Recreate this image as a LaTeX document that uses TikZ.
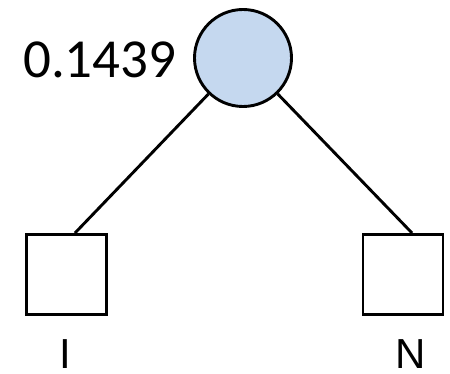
\documentclass[tikz,border=0pt]{standalone}
\usepackage{fontspec}
\newfontfamily\calib{Carlito}
\newfontfamily\arial{Liberation Sans}
\definecolor{nodeblue}{RGB}{197,216,239}
\begin{document}
\begin{tikzpicture}[x=1pt,y=-1pt,
  chance/.style={circle,draw=black,line width=2.9pt,fill=nodeblue,minimum size=97pt,inner sep=0},
  leaf/.style={rectangle,draw=black,line width=2.9pt,fill=white,minimum size=80pt,inner sep=0},
  edge/.style={line width=2.9pt},
  lbl/.style={inner sep=0,anchor=base,font=\arial\fontsize{42}{42}\selectfont}]
\useasboundingbox (0,0) rectangle (450,374);
\node[chance] (c) at (243,58) {};
\node[leaf] (l) at (66.5,274.5) {};
\node[leaf] (r) at (403,274.5) {};
\coordinate (lt) at (75,233);
\coordinate (rt) at (412,233);
\draw[edge] (c) -- (lt);
\draw[edge] (c) -- (rt);
\node[inner sep=0,anchor=base west,font=\calib\fontsize{55}{55}\selectfont] (v) at (23,78) {0.1439};
\node[lbl] (li) at (65,368) {I};
\node[lbl] (ln) at (411,368) {N};
\end{tikzpicture}
\end{document}
